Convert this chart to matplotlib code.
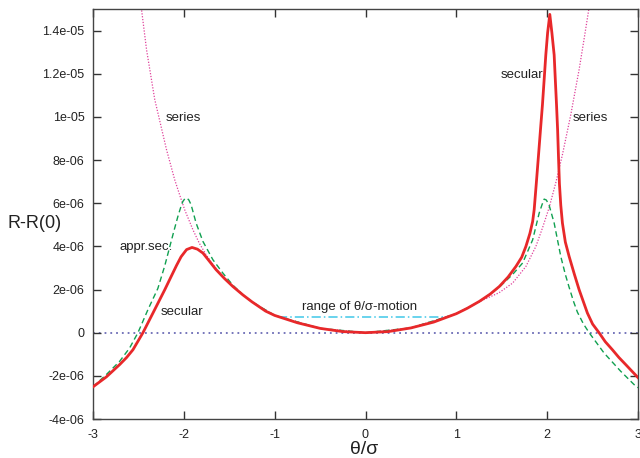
import numpy as np
import matplotlib
matplotlib.use('Agg')
import matplotlib.pyplot as plt

# Values, y in units of 1e-6

SCALE = 1e-6

SECULAR_X = [-3.0, -2.853, -2.707, -2.63, -2.56, -2.45, -2.34, -2.21,
             -2.14, -2.08, -2.03, -1.97, -1.91, -1.85, -1.79, -1.72, -1.645,
             -1.55, -1.46, -1.35, -1.25, -1.1, -1.0, -0.75, -0.5, -0.25, 0.0,
             0.25, 0.5, 0.75, 1.0, 1.12, 1.253, 1.37, 1.473, 1.57, 1.656, 1.72,
             1.766, 1.81, 1.84, 1.857, 1.88, 1.905, 1.93, 1.948, 1.968, 1.985,
             2.005, 2.029, 2.052, 2.077, 2.09, 2.103, 2.115, 2.125, 2.135, 2.15,
             2.168, 2.2, 2.242, 2.3, 2.352, 2.443, 2.5, 2.571, 2.64, 2.718,
             2.79, 2.865, 2.93, 3.0]
SECULAR_Y = [-2.51, -2.05, -1.48, -1.15, -0.79, 0.0, 0.91, 1.99,
             2.6, 3.12, 3.52, 3.85, 3.95, 3.87, 3.69, 3.32, 2.92,
             2.5, 2.14, 1.75, 1.43, 1.0, 0.8, 0.46, 0.2, 0.05, 0.0,
             0.05, 0.22, 0.49, 0.88, 1.13, 1.45, 1.78, 2.14, 2.58, 3.07, 3.5,
             4.0, 4.6, 5.15, 5.7, 6.9, 8.24, 9.6, 10.56, 11.8, 12.87,
             13.9, 14.75, 13.9, 12.87, 11.7, 10.56, 9.4, 8.1, 6.9, 5.9,
             5.08, 4.2, 3.53, 2.7, 1.99, 0.91, 0.4, 0.0, -0.42, -0.79,
             -1.15, -1.48, -1.77, -2.08]

APPR_X = [-3.0, -2.853, -2.707, -2.597, -2.505, -2.396, -2.286, -2.21,
          -2.157, -2.11, -2.066, -2.035, -2.011, -1.99, -1.967, -1.945,
          -1.92, -1.865, -1.79, -1.68, -1.57, -1.46, -1.35, -1.25, -1.0, -0.5,
          0.0, 0.5, 1.0, 1.25, 1.47, 1.62, 1.73, 1.84, 1.912, 1.945, 1.967,
          1.99, 2.02, 2.077, 2.15, 2.2, 2.242, 2.29, 2.333, 2.4, 2.462, 2.626,
          2.81, 2.975, 3.0]
APPR_Y = [-2.51, -1.94, -1.33, -0.71, 0.0, 1.06, 2.05, 3.1,
          3.95, 4.7, 5.38, 5.8, 6.08, 6.2, 6.24, 6.15,
          5.93, 5.08, 4.23, 3.38, 2.76, 2.2, 1.76, 1.43, 0.8, 0.2,
          0.0, 0.22, 0.88, 1.43, 2.1, 2.7, 3.23, 4.3, 5.54, 5.95, 6.19,
          6.15, 5.93, 5.08, 3.53, 2.7, 2.1, 1.45, 0.95, 0.4, 0.0, -0.94,
          -1.79, -2.48, -2.55]

SERIES_X = [-2.50, -2.465, -2.41, -2.32, -2.19, -2.10, -2.04, -1.99, -1.90,
            -1.83, -1.755, -1.66, -1.57, -1.46, -1.35, -1.25, -1.0, -0.5, 0.0,
            0.5, 1.0, 1.25, 1.47, 1.62, 1.766, 1.876, 1.948, 2.022, 2.095,
            2.168, 2.26, 2.352, 2.41, 2.46, 2.50]
SERIES_Y = [16.2, 14.95, 13.1, 10.8, 8.47, 7.08, 6.31, 5.69, 4.77,
            4.15, 3.61, 3.05, 2.6, 2.15, 1.76, 1.43, 0.8, 0.2, 0.0,
            0.22, 0.88, 1.43, 1.85, 2.3, 3.07, 4.0, 4.85, 5.8, 6.95,
            8.25, 10.1, 12.2, 13.7, 15.03, 16.2]

RANGE_X = [-0.96, 0.92]
RANGE_Y = [0.75, 0.75]

X_TICKS = [-3, -2, -1, 0, 1, 2, 3]
Y_TICKS = [-4, -2, 0, 2, 4, 6, 8, 10, 12, 14]
Y_TICK_LABELS = ['-4e-06', '-2e-06', '0', '2e-06', '4e-06', '6e-06', '8e-06',
                 '1e-05', '1.2e-05', '1.4e-05']

plt.rcParams['font.family'] = ['Liberation Sans', 'DejaVu Sans']

fig = plt.figure(figsize=(6.4, 4.58), dpi=100)
ax = fig.add_axes([93 / 640, 1 - 419 / 458, (638 - 93) / 640, (419 - 9) / 458])

sc = lambda v: np.asarray(v) * SCALE

ax.axhline(0, color='#6b6bb5', lw=1.3, ls=(0, (1, 2.2)), zorder=1)
ax.plot(SERIES_X, sc(SERIES_Y), color='#e0409a', lw=0.9, ls=(0, (1, 1.3)), zorder=2)
ax.plot(RANGE_X, sc(RANGE_Y), color='#40c8e8', lw=1.1, ls=(0, (6, 2, 1, 2)), zorder=2)
ax.plot(APPR_X, sc(APPR_Y), color='#10a050', lw=1.0, ls=(0, (4, 2.5)), zorder=3)
ax.plot(SECULAR_X, sc(SECULAR_Y), color='#e8282a', lw=2.0, zorder=4)

ax.set_xlim(-3, 3)
ax.set_ylim(-4e-6, 1.5e-5)
ax.set_xticks(X_TICKS)
ax.set_xticklabels([str(t) for t in X_TICKS])
ax.set_yticks(sc(Y_TICKS))
ax.set_yticklabels(Y_TICK_LABELS)
ax.tick_params(direction='in', top=True, right=True, length=6, width=1,
               colors='#333333', labelsize=9, labelcolor='#222222')
ax.tick_params(axis='y', pad=6)
ax.tick_params(axis='x', pad=7)
for s in ax.spines.values():
    s.set_color('#444444')
    s.set_linewidth(1.0)

tk = dict(fontsize=9.5, color='#222222', ha='center', va='center')
ax.text(-2.01, 9.93e-6, 'series', **tk)
ax.text(2.47, 9.93e-6, 'series', **tk)
ax.text(1.72, 11.95e-6, 'secular', **tk)
ax.text(-2.41, 3.97e-6, 'appr.sec.', **tk)
ax.text(-2.02, 0.98e-6, 'secular', **tk)
ax.text(-0.07, 1.21e-6, 'range of θ/σ-motion', **tk)

fig.text(35 / 640, 1 - 223 / 458, 'R-R(0)', fontsize=13, color='#222222',
         ha='center', va='center')
fig.text(364 / 640, 1 - 450 / 458, 'θ/σ', fontsize=14, color='#222222',
         ha='center', va='center')

fig.savefig('out.png', dpi=100)
